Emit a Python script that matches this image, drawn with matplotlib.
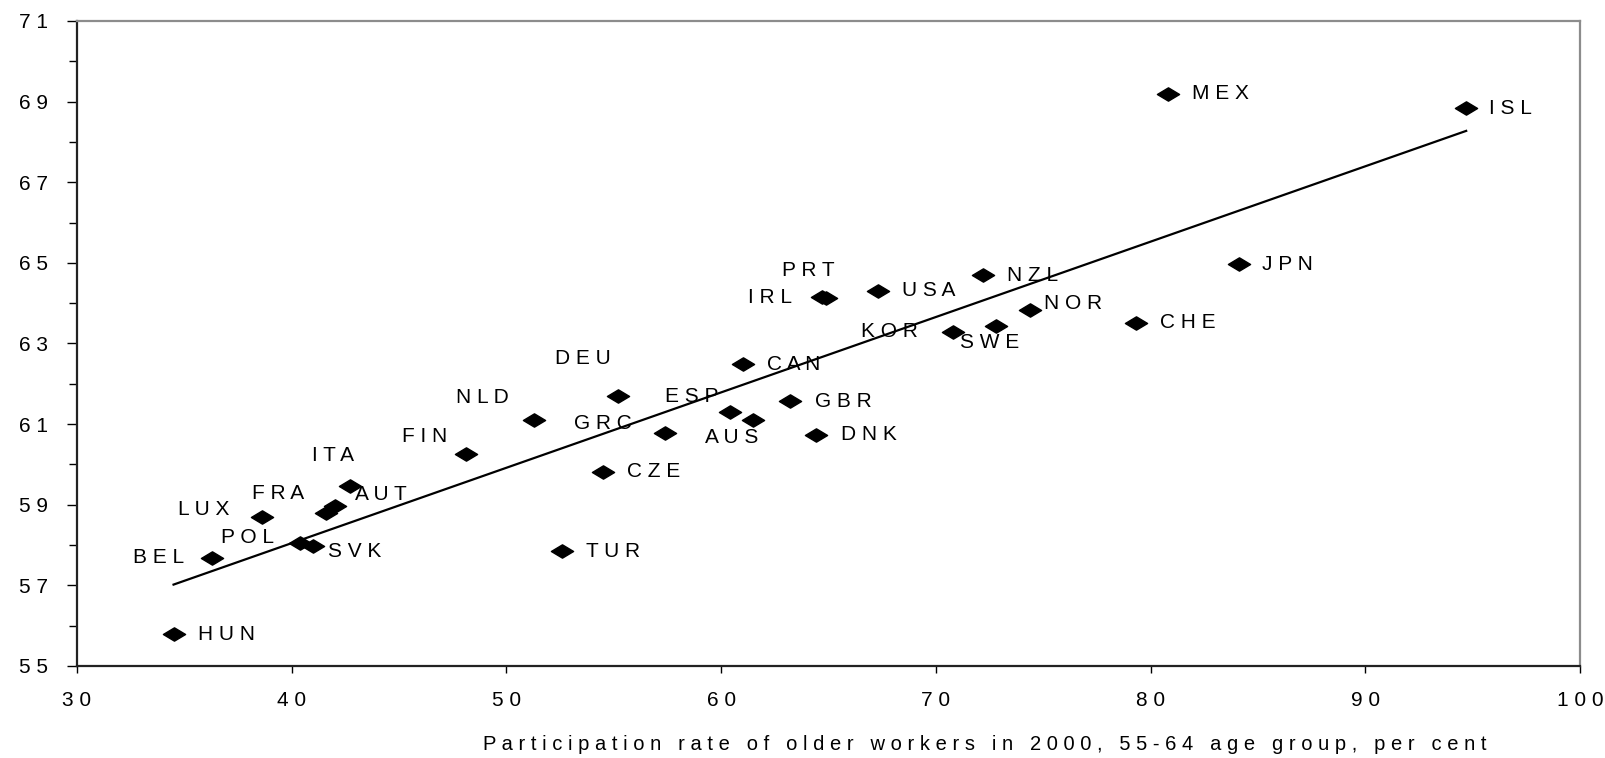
import numpy as np
import matplotlib
matplotlib.use("Agg")
import matplotlib.pyplot as plt
from matplotlib.path import Path

plt.rcParams['font.family'] = ['Liberation Sans', 'DejaVu Sans']

# Données
pays = ["HUN", "BEL", "LUX", "FRA", "POL", "SVK", "AUT", "ITA", "FIN", "NLD",
        "TUR", "CZE", "DEU", "GRC", "ESP", "AUS", "CAN", "GBR", "DNK", "IRL",
        "PRT", "USA", "KOR", "NZL", "SWE", "NOR", "CHE", "MEX", "JPN", "ISL"]
taux_activite = [34.5, 36.3, 38.6, 41.6, 40.4, 41.0, 42.0, 42.7, 48.1, 51.3,
                 52.6, 54.5, 55.2, 57.4, 60.4, 61.5, 61.0, 63.2, 64.4, 64.7,
                 64.9, 67.3, 70.8, 72.2, 72.8, 74.4, 79.3, 80.8, 84.1, 94.7]
age_retraite = [55.79, 57.69, 58.70, 58.80, 58.04, 57.97, 58.96, 59.46, 60.27, 61.11,
                57.84, 59.82, 61.69, 60.79, 61.31, 61.11, 62.48, 61.57, 60.73, 64.15,
                64.13, 64.31, 63.29, 64.69, 63.44, 63.82, 63.52, 69.20, 64.97, 68.84]

x_ticks = [30, 40, 50, 60, 70, 80, 90, 100]
y_ticks = [55, 57, 59, 61, 63, 65, 67, 69, 71]
titre_x = "Participation rate of older workers in 2000, 55-64 age group, per cent"

# Décalage des étiquettes (pixels) et alignement
decalages = {
    "HUN": (24, 0, "left"), "BEL": (-28, 0, "right"), "LUX": (-32, 7, "right"),
    "FRA": (-22, 19, "right"), "POL": (-26, 6, "right"), "SVK": (15, -5, "left"),
    "AUT": (20, 12, "left"), "ITA": (-17, 31, "center"), "FIN": (-18, 17, "right"),
    "NLD": (-26, 22, "right"), "TUR": (24, 0, "left"), "CZE": (24, 0, "left"),
    "DEU": (-7, 38, "right"), "GRC": (-34, 9, "right"), "ESP": (-11, 15, "right"),
    "AUS": (5, -18, "right"), "CAN": (24, 0, "left"), "GBR": (25, 0, "left"),
    "DNK": (25, 0, "left"), "IRL": (-30, 0, "right"), "PRT": (-18, 27, "center"),
    "USA": (24, 0, "left"), "KOR": (-35, 0, "right"), "NZL": (24, 0, "left"),
    "SWE": (-6, -17, "center"), "NOR": (14, 7, "left"), "CHE": (24, 0, "left"),
    "MEX": (24, 0, "left"), "JPN": (23, 0, "left"), "ISL": (23, 0, "left"),
}


def espace(texte):
    # Imite l'espacement des lettres du graphique d'origine
    return " ".join(texte)


# Marqueur en losange aplati
losange = Path([(-1, 0), (0, 0.6), (1, 0), (0, -0.6), (-1, 0)],
               [Path.MOVETO, Path.LINETO, Path.LINETO, Path.LINETO, Path.CLOSEPOLY])

fig = plt.figure(figsize=(16.06, 7.58), dpi=100)
ax = fig.add_axes([0.0479, 0.1214, 0.9359, 0.8509])

# Droite de tendance
pente, ordonnee = np.polyfit(taux_activite, age_retraite, 1)
xs = np.array([min(taux_activite), max(taux_activite)])
ax.plot(xs, pente * xs + ordonnee, color="black", lw=1.6, zorder=2)

ax.plot(taux_activite, age_retraite, linestyle="none", marker=losange,
        markersize=16, color="black", zorder=3)

for nom, x, y in zip(pays, taux_activite, age_retraite):
    dx, dy, ha = decalages[nom]
    ax.annotate(espace(nom), (x, y), xytext=(dx, dy), textcoords="offset pixels",
                ha=ha, va="center", fontsize=15, color="black", zorder=4)

ax.set_xlim(30, 100)
ax.set_ylim(55, 71)
ax.set_xticks(x_ticks)
ax.set_xticklabels([espace(str(t)) for t in x_ticks], fontsize=15)
ax.set_yticks(y_ticks)
ax.set_yticklabels([espace(str(t)) for t in y_ticks], fontsize=15)
ax.set_yticks(np.arange(56, 71, 2), minor=True)
ax.tick_params(axis="y", which="major", direction="out", length=7, width=1, pad=14)
ax.tick_params(axis="y", which="minor", direction="out", length=6, width=1)
ax.tick_params(axis="x", which="major", direction="out", length=5, width=1, pad=13)

for cote in ["left", "bottom"]:
    ax.spines[cote].set_color("#222222")
    ax.spines[cote].set_linewidth(1.6)
for cote in ["top", "right"]:
    ax.spines[cote].set_color("#8c8c8c")
    ax.spines[cote].set_linewidth(1.6)

ax.set_xlabel(espace(titre_x), fontsize=14.5, ha="left", va="center")
ax.xaxis.set_label_coords(0.27, -0.1225)

fig.savefig("out.png", dpi=100)
